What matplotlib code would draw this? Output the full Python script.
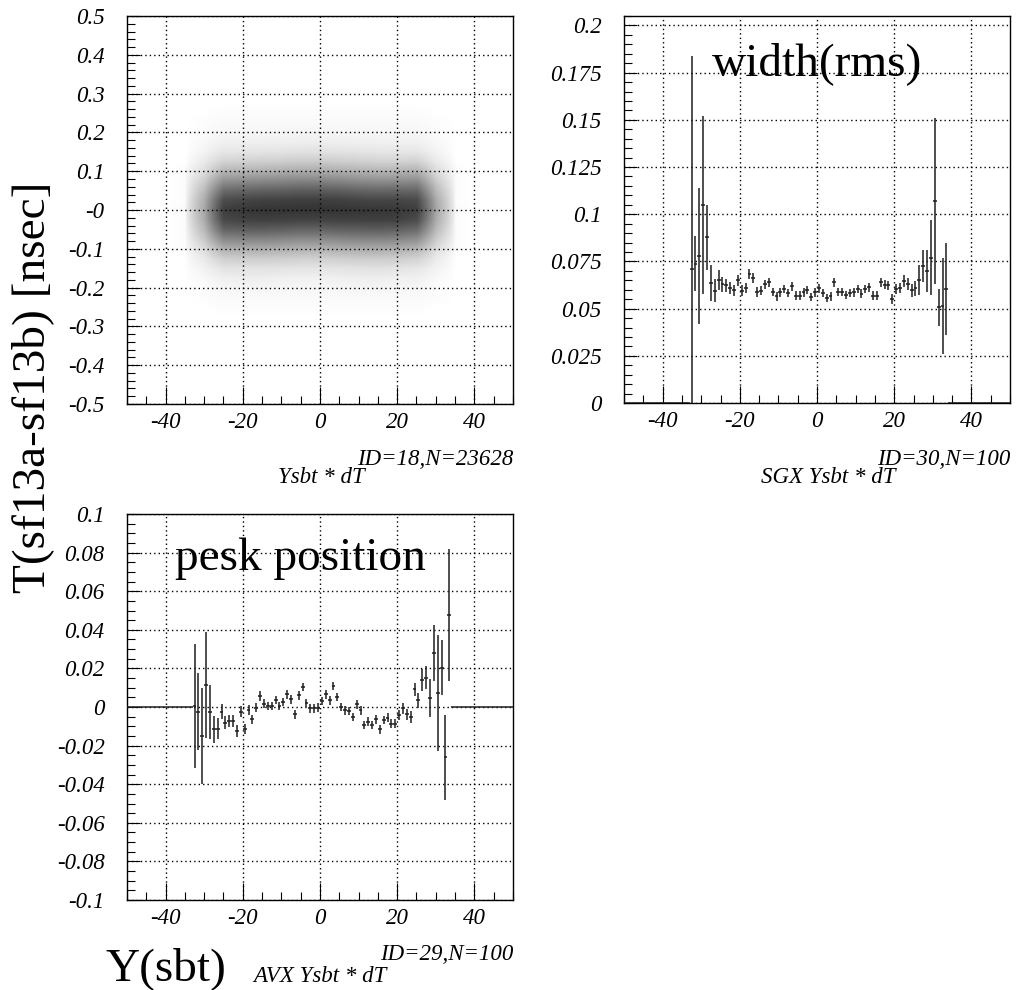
import numpy as np
import matplotlib
matplotlib.use('Agg')
import matplotlib.pyplot as plt
from matplotlib.colors import PowerNorm, LinearSegmentedColormap

plt.rcParams['font.family'] = ['Liberation Serif', 'DejaVu Serif']

# ---- panel 1: Ysbt * dT, 2D histogram (counts per 5 x 0.025 cell, read at grid nodes)
dens_x = [-40, -35, -30, -25, -20, -15, -10, -5, 0, 5, 10, 15, 20, 25, 30, 35, 40]
dens_y = [0.275, 0.25, 0.225, 0.2, 0.175, 0.15, 0.125, 0.1, 0.075, 0.05, 0.025, 0.0,
          -0.025, -0.05, -0.075, -0.1, -0.125, -0.15, -0.175, -0.2, -0.225, -0.25, -0.275]
dens = [
    [0, 0, 0,   0,   0,   0,   0,   0,   0,   0,   0,   0,   0,   0,   0, 0, 0],
    [0, 0, 0,   1,   1,   1,   1,   1,   1,   1,   1,   1,   1,   1,   0, 0, 0],
    [0, 0, 1,   2,   2,   2,   2,   2,   2,   2,   2,   2,   2,   2,   1, 0, 0],
    [0, 0, 1,   4,   4,   4,   4,   5,   5,   4,   4,   4,   4,   4,   1, 0, 0],
    [0, 0, 3,   8,   9,   9,   9,  10,  10,   9,   9,   8,   8,   8,   3, 0, 0],
    [0, 0, 6,  17,  18,  19,  20,  22,  22,  20,  19,  17,  17,  17,   6, 0, 0],
    [0, 0, 13,  38,  40,  43,  45,  48,  48,  45,  42,  39,  39,  40,  13, 0, 0],
    [0, 1, 25,  78,  82,  86,  90,  95,  95,  90,  84,  80,  80,  84,  27, 1, 0],
    [0, 1, 47, 140, 148, 155, 160, 166, 166, 160, 150, 145, 146, 150,  49, 1, 0],
    [0, 1, 71, 215, 228, 236, 240, 246, 246, 240, 230, 225, 226, 224,  73, 1, 0],
    [0, 1, 92, 282, 298, 308, 310, 315, 315, 310, 302, 298, 298, 288,  95, 1, 0],
    [0, 2, 102, 315, 332, 340, 340, 340, 340, 340, 335, 334, 330, 313, 102, 2, 0],
    [0, 1, 95, 292, 308, 312, 310, 305, 305, 310, 310, 312, 308, 282,  92, 1, 0],
    [0, 1, 75, 232, 244, 246, 240, 232, 232, 240, 244, 246, 240, 218,  71, 1, 0],
    [0, 1, 51, 156, 164, 165, 160, 152, 152, 160, 165, 166, 160, 144,  47, 1, 0],
    [0, 1, 28,  88,  92,  93,  90,  85,  85,  90,  94,  95,  90,  80,  25, 1, 0],
    [0, 0, 14,  44,  46,  46,  45,  42,  42,  45,  47,  48,  45,  39,  13, 0, 0],
    [0, 0, 7,  20,  21,  21,  20,  19,  19,  20,  21,  22,  20,  17,   6, 0, 0],
    [0, 0, 3,   9,  10,  10,   9,   8,   8,   9,  10,  10,   9,   8,   3, 0, 0],
    [0, 0, 1,   4,   5,   5,   4,   4,   4,   4,   5,   5,   4,   4,   1, 0, 0],
    [0, 0, 1,   2,   2,   2,   2,   2,   2,   2,   2,   2,   2,   2,   1, 0, 0],
    [0, 0, 0,   1,   1,   1,   1,   1,   1,   1,   1,   1,   1,   1,   0, 0, 0],
    [0, 0, 0,   0,   0,   0,   0,   0,   0,   0,   0,   0,   0,   0,   0, 0, 0],
]

# ---- bins for the profile panels (100 bins, -50..50)
bin_centers = np.arange(-49.5, 50, 1.0)
n_empty_left = 17
n_empty_right = 16

# ---- panel 2: SGX (width rms), filled bins -32.5 .. 33.5
width_vals = [
    0.071, 0.0738, 0.078, 0.1048, 0.0877, 0.0636, 0.0595, 0.065, 0.063, 0.0623,
    0.061, 0.0597, 0.065, 0.0595, 0.061, 0.0683, 0.0662, 0.0588, 0.0595, 0.063,
    0.0639, 0.0588, 0.0565, 0.0586, 0.0604, 0.0583, 0.0618, 0.0569, 0.0569, 0.0586,
    0.060, 0.0562, 0.0586, 0.0607, 0.0583, 0.0556, 0.0565, 0.0639, 0.0588, 0.0588,
    0.0574, 0.0583, 0.0586, 0.0604, 0.058, 0.0604, 0.0612, 0.0569, 0.0569, 0.0639,
    0.0627, 0.0623, 0.0551, 0.0604, 0.061, 0.0646, 0.0632, 0.0597, 0.0607, 0.065,
    0.0724, 0.0698, 0.077, 0.107, 0.0507, 0.0515, 0.0604]
width_errs = [
    0.113, 0.0145, 0.036, 0.047, 0.017, 0.0097, 0.006, 0.0053, 0.004, 0.0035,
    0.003, 0.003, 0.003, 0.0028, 0.0028, 0.0027, 0.0026, 0.0025, 0.0025, 0.0024,
    0.0024, 0.0023, 0.0023, 0.0023, 0.0022, 0.0022, 0.0022, 0.0022, 0.0022, 0.0022,
    0.0022, 0.0022, 0.0022, 0.0022, 0.0022, 0.0022, 0.0022, 0.0022, 0.0022, 0.0022,
    0.0022, 0.0022, 0.0022, 0.0022, 0.0022, 0.0023, 0.0023, 0.0023, 0.0024, 0.0024,
    0.0025, 0.0025, 0.0026, 0.0027, 0.0028, 0.003, 0.0032, 0.0035, 0.004, 0.008,
    0.0085, 0.011, 0.020, 0.044, 0.0098, 0.0255, 0.0245]

# ---- panel 3: AVX (peak position)
peak_vals = [
    0.0005, -0.0024, -0.015, 0.0116, -0.0026, -0.0115, -0.0112, -0.0024, -0.0081, -0.0072,
    -0.0072, -0.0124, -0.0024, -0.0113, -0.0017, -0.0064, -0.0003, 0.0057, 0.0017, 0.0005,
    0.0005, 0.0036, 0.0005, 0.0026, 0.0065, 0.004, -0.0038, 0.006, 0.0103, 0.0022,
    -0.0007, -0.0007, -0.0003, 0.0031, 0.0065, 0.0034, 0.0108, 0.0053, 0.0, -0.0017,
    -0.002, -0.0052, 0.0014, -0.0017, -0.0093, -0.0076, -0.0093, -0.0064, -0.0115, -0.0067,
    -0.0055, -0.0086, -0.0086, -0.0043, -0.0007, -0.0038, -0.0052, 0.0091, 0.0034, 0.014,
    0.0152, 0.0045, 0.0281, 0.0074, 0.0203, -0.0261, 0.0476]
peak_errs = [
    0.032, 0.020, 0.025, 0.0274, 0.0138, 0.0069, 0.0056, 0.004, 0.0035, 0.0032,
    0.003, 0.003, 0.0028, 0.0027, 0.0026, 0.0025, 0.0025, 0.0024, 0.0024, 0.0023,
    0.0023, 0.0023, 0.0023, 0.0022, 0.0022, 0.0022, 0.0022, 0.0022, 0.0022, 0.0022,
    0.0022, 0.0022, 0.0022, 0.0022, 0.0022, 0.0022, 0.0022, 0.0022, 0.0022, 0.0022,
    0.0022, 0.0022, 0.0022, 0.0022, 0.0022, 0.0022, 0.0022, 0.0023, 0.0023, 0.0023,
    0.0024, 0.0024, 0.0025, 0.0026, 0.0027, 0.0028, 0.003, 0.0033, 0.004, 0.0056,
    0.006, 0.0099, 0.0146, 0.030, 0.0142, 0.022, 0.0342]

# ---- ticks
x_ticks = [-40, -20, 0, 20, 40]
x_labels = ['-40', '-20', '0', '20', '40']
tl_ticks = [-0.5, -0.4, -0.3, -0.2, -0.1, 0.0, 0.1, 0.2, 0.3, 0.4, 0.5]
tl_labels = ['-0.5', '-0.4', '-0.3', '-0.2', '-0.1', '-0', '0.1', '0.2', '0.3', '0.4', '0.5']
tr_ticks = [0, 0.025, 0.05, 0.075, 0.1, 0.125, 0.15, 0.175, 0.2]
tr_labels = ['0', '0.025', '0.05', '0.075', '0.1', '0.125', '0.15', '0.175', '0.2']
bl_ticks = [-0.1, -0.08, -0.06, -0.04, -0.02, 0, 0.02, 0.04, 0.06, 0.08, 0.1]
bl_labels = ['-0.1', '-0.08', '-0.06', '-0.04', '-0.02', '0', '0.02', '0.04', '0.06', '0.08', '0.1']


def pad_bins(vals):
    return np.concatenate([np.zeros(n_empty_left), vals, np.zeros(n_empty_right)])


def style_axes(ax, yticks, ylabels, ylim, yminor):
    ax.set_xlim(-50, 50)
    ax.set_ylim(*ylim)
    ax.set_xticks(x_ticks, labels=x_labels)
    ax.set_xticks(np.arange(-50, 50.1, 5), minor=True)
    ax.set_yticks(yticks, labels=ylabels)
    ax.set_yticks(np.arange(ylim[0], ylim[1] + 1e-9, yminor), minor=True)
    ax.grid(True, which='major', color='black', linewidth=1.0, linestyle=(0, (1, 2.2)))
    ax.set_axisbelow(True)
    ax.tick_params(which='both', direction='in', top=False, right=False, width=0.8,
                   labelsize=16.5, labelfontfamily='Liberation Serif')
    ax.tick_params(axis='x', which='major', length=12, pad=6)
    ax.tick_params(axis='x', which='minor', length=5.5)
    ax.tick_params(axis='y', which='major', length=9, pad=16)
    ax.tick_params(axis='y', which='minor', length=5.5)
    for lab in ax.get_xticklabels() + ax.get_yticklabels():
        lab.set_fontstyle('italic')
    for sp in ax.spines.values():
        sp.set_linewidth(1.0)


fig = plt.figure(figsize=(10.33, 9.9), dpi=100)

# top-left: scatter density (black with transparency for the sparse tails)
ax1 = fig.add_axes([0.1229, 0.5919, 0.3737, 0.3919])
ink = LinearSegmentedColormap.from_list('ink', [(0, 0, 0, 0), (0, 0, 0, 1)])
hx = (dens_x[1] - dens_x[0]) / 2
hy = (dens_y[0] - dens_y[1]) / 2
ax1.imshow(np.array(dens, dtype=float), cmap=ink,
           norm=PowerNorm(gamma=0.7, vmin=0, vmax=470),
           extent=(dens_x[0] - hx, dens_x[-1] + hx, dens_y[-1] - hy, dens_y[0] + hy),
           origin='upper', aspect='auto', interpolation='bilinear', zorder=1)
style_axes(ax1, tl_ticks, tl_labels, (-0.5, 0.5), 0.02)

# top-right: width (rms)
ax2 = fig.add_axes([0.6041, 0.5929, 0.3737, 0.3909])
ax2.errorbar(bin_centers, pad_bins(width_vals), xerr=0.5, yerr=pad_bins(width_errs),
             fmt='none', ecolor='#1e1e1e', elinewidth=1.1, capsize=0, zorder=3)
style_axes(ax2, tr_ticks, tr_labels, (0, 0.205), 0.005)
ax2.text(712 / 1033, 1 - 75 / 990, 'width(rms)', transform=fig.transFigure,
         fontsize=34, ha='left', va='baseline')

# bottom-left: peak position
ax3 = fig.add_axes([0.1229, 0.0909, 0.3737, 0.3899])
ax3.errorbar(bin_centers, pad_bins(peak_vals), xerr=0.5, yerr=pad_bins(peak_errs),
             fmt='none', ecolor='#1e1e1e', elinewidth=1.1, capsize=0, zorder=3)
style_axes(ax3, bl_ticks, bl_labels, (-0.1, 0.1), 0.005)
ax3.text(175 / 1033, 1 - 570 / 990, 'pesk position', transform=fig.transFigure,
         fontsize=34, ha='left', va='baseline')

# annotations
small = dict(fontsize=16.5, fontstyle='italic')
fig.text(513 / 1033, 1 - 465 / 990, 'ID=18,N=23628', ha='right', va='baseline', **small)
fig.text(321 / 1033, 1 - 483 / 990, 'Ysbt * dT', ha='center', va='baseline', **small)
fig.text(1010 / 1033, 1 - 465 / 990, 'ID=30,N=100', ha='right', va='baseline', **small)
fig.text(828 / 1033, 1 - 483 / 990, 'SGX Ysbt * dT', ha='center', va='baseline', **small)
fig.text(513 / 1033, 1 - 960 / 990, 'ID=29,N=100', ha='right', va='baseline', **small)
fig.text(320 / 1033, 1 - 982 / 990, 'AVX Ysbt * dT', ha='center', va='baseline', **small)

fig.text(33 / 1033, 1 - 387 / 990, 'T(sf13a-sf13b) [nsec]', rotation=90,
         ha='center', va='center', fontsize=34)
fig.text(105 / 1033, 1 - 980 / 990, 'Y(sbt)', ha='left', va='baseline', fontsize=34)

fig.savefig('out.png', dpi=100)
